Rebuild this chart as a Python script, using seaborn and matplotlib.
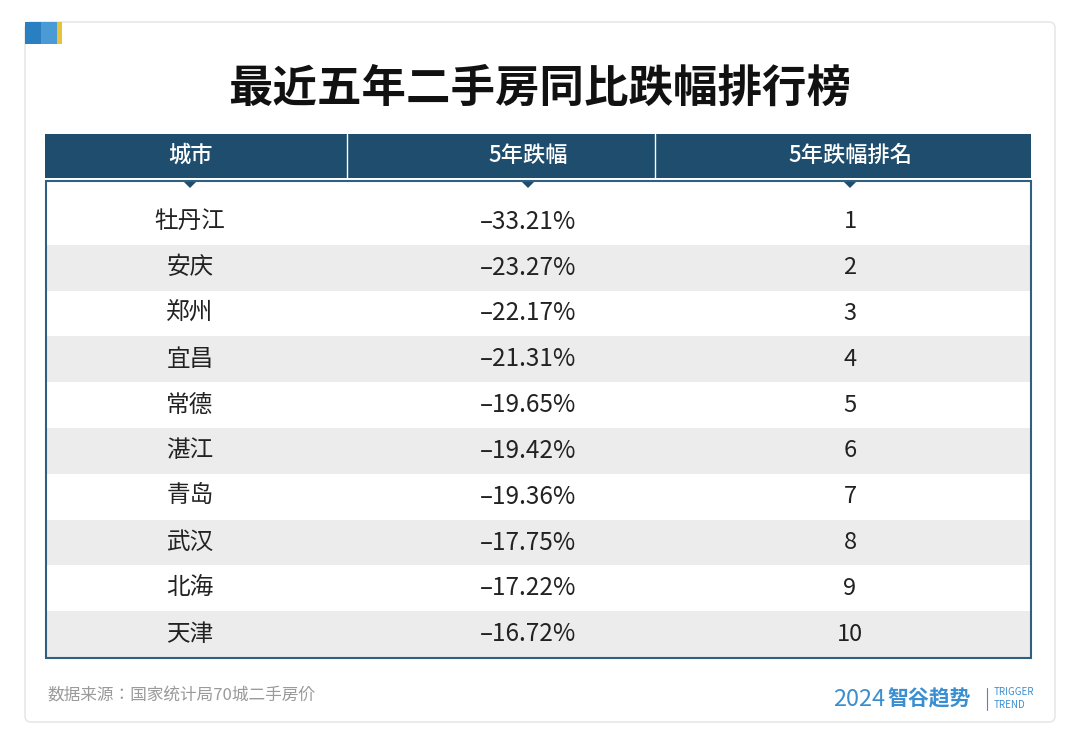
import matplotlib
matplotlib.use("Agg")
import matplotlib.pyplot as plt
from matplotlib import font_manager as fm
from matplotlib.patches import FancyBboxPatch, Rectangle, Polygon
import seaborn as sns
import numpy as np

sns.set_theme(style="white")
cjk = None
for f in fm.findSystemFonts():
    if cjk is None and ("NotoSansCJK" in f.replace(" ", "") or "NotoSansSC" in f) and "Regular" in f:
        cjk = f
if cjk is None:
    for f in fm.findSystemFonts():
        if "CJK" in f:
            cjk = f; break
fm.fontManager.addfont(cjk)
fname = fm.FontProperties(fname=cjk).get_name()
plt.rcParams["font.family"] = [fname, "DejaVu Sans"]
plt.rcParams["font.sans-serif"] = [fname, "DejaVu Sans"]

title = "最近五年二手房同比跌幅排行榜"
headers = ["城市", "5年跌幅", "5年跌幅排名"]
cities = ["牡丹江", "安庆", "郑州", "宜昌", "常德", "湛江", "青岛", "武汉", "北海", "天津"]
drops = [-33.21, -23.27, -22.17, -21.31, -19.65, -19.42, -19.36, -17.75, -17.22, -16.72]
ranks = [1, 2, 3, 4, 5, 6, 7, 8, 9, 10]
source = "数据来源：国家统计局70城二手房价"

fig = plt.figure(figsize=(10.8, 7.52), dpi=100, facecolor="white")
ax = fig.add_axes([0, 0, 1, 1])
ax.set_xlim(0, 1080); ax.set_ylim(752, 0); ax.axis("off")

ax.add_patch(FancyBboxPatch((25, 22), 1030, 700, boxstyle="round,pad=0,rounding_size=6",
                            fc="none", ec="#e3e3e3", lw=1))
ax.add_patch(Rectangle((25, 22), 16, 22, fc="#2a7fc0", ec="none"))
ax.add_patch(Rectangle((41, 22), 16, 22, fc="#4a9ad6", ec="none"))
ax.add_patch(Rectangle((57, 22), 5, 22, fc="#e8c33a", ec="none"))

ax.text(540, 89, title, ha="center", va="center", fontsize=32, fontweight="bold", color="#111111")

n = len(cities)
top, rh = 199, 45.8
stripe = np.array([[i % 2] for i in range(n)], dtype=float)
sub = fig.add_axes([46/1080, 1-(top+n*rh)/752, (1030-46)/1080, n*rh/752])
sns.heatmap(stripe, ax=sub, cmap=sns.color_palette(["#ffffff", "#ececec"], as_cmap=True),
            cbar=False, xticklabels=False, yticklabels=False, vmin=0, vmax=1)
sub.set_zorder(0)
for s in sub.spines.values():
    s.set_visible(False)
ax.set_zorder(1); ax.patch.set_alpha(0)

hc = "#1f4d6d"
ax.add_patch(Rectangle((45, 134), 986, 44, fc=hc, ec="none"))
for xd in [347, 655]:
    ax.plot([xd, xd], [134, 178], color="white", lw=1)
colx = [190, 528, 850]
for x, h in zip(colx, headers):
    ax.text(x, 155, h, ha="center", va="center", fontsize=16, fontweight="medium", color="white")
    ax.add_patch(Polygon([[x-8, 180], [x+8, 180], [x, 188]], fc=hc, ec="none"))
ax.add_patch(Rectangle((45.5, 180.5), 985, 477, fc="none", ec="#2f5f82", lw=1.5))

for i in range(n):
    y = top + (i + 0.5) * rh
    ax.text(colx[0], y, cities[i], ha="center", va="center", fontsize=17, color="#222222")
    ax.text(colx[1], y, f"\u2013{abs(drops[i]):.2f}%", ha="center", va="center", fontsize=17.5, color="#222222")
    ax.text(colx[2], y, str(ranks[i]), ha="center", va="center", fontsize=17, color="#222222")

ax.text(47, 695, source, ha="left", va="center", fontsize=12, color="#9a9a9a")
ax.text(833, 699, "2024", ha="left", va="center", fontsize=17, color="#3b8fd0")
ax.text(887, 699, "智谷趋势", ha="left", va="center", fontsize=15, fontweight="bold", color="#3b8fd0")
ax.plot([987, 987], [688, 710], color="#3b8fd0", lw=0.8)
ax.text(994, 692, "TRIGGER", ha="left", va="center", fontsize=7, color="#3b8fd0")
ax.text(994, 705, "TREND", ha="left", va="center", fontsize=7, color="#3b8fd0")

fig.savefig("out.png", dpi=100)
